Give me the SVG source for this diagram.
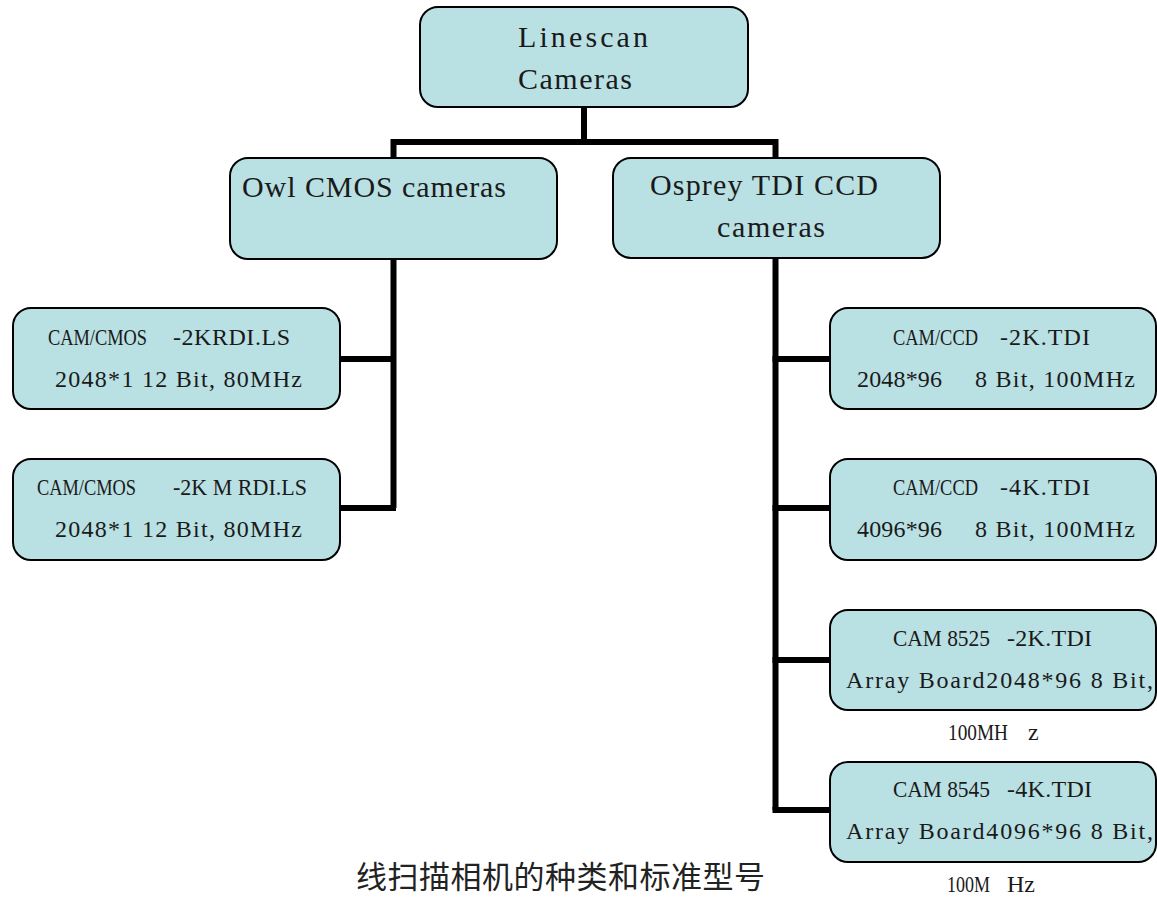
<svg xmlns="http://www.w3.org/2000/svg" width="1157" height="898" viewBox="0 0 1157 898">
<style>
.box{fill:#b9e0e3;stroke:#000;stroke-width:2}
.t{font-family:"Liberation Serif","Times New Roman",serif;fill:#1a1a1a}
.big{font-size:30px}
.sm{font-size:24px}
.conn{fill:none;stroke:#000;stroke-width:6}
.cap{font-family:"Noto Sans CJK SC","Noto Sans",sans-serif;font-size:31px;fill:#222}
</style>
<rect x="0" y="0" width="1157" height="898" fill="#fff"/>
<g id="connectors" class="conn">
<path d="M584,107 V142"/>
<path d="M393.5,159 V142 H775.5 V158"/>
<path d="M393.5,258 V508"/>
<path d="M340,359 H396"/>
<path d="M340,508 H396"/>
<path d="M775.5,258 V810"/>
<path d="M772.5,359 H830"/>
<path d="M772.5,508 H830"/>
<path d="M772.5,660 H830"/>
<path d="M772.5,810 H830"/>
</g>
<g id="root">
<rect class="box" x="420" y="7" width="328" height="100" rx="18"/>
<text class="t big" x="518" y="47" textLength="130" lengthAdjust="spacing">Linescan</text>
<text class="t big" x="518" y="89" textLength="114" lengthAdjust="spacing">Cameras</text>
</g>
<g id="owl">
<rect class="box" x="230" y="158" width="327" height="101" rx="18"/>
<text class="t big" x="242" y="197" textLength="264" lengthAdjust="spacing">Owl CMOS cameras</text>
</g>
<g id="osprey">
<rect class="box" x="613" y="158" width="327" height="100" rx="18"/>
<text class="t big" x="650" y="195" textLength="228" lengthAdjust="spacing">Osprey TDI CCD</text>
<text class="t big" x="717" y="237" textLength="108" lengthAdjust="spacing">cameras</text>
</g>
<g id="cmos1">
<rect class="box" x="13" y="308" width="327" height="101" rx="18"/>
<text class="t sm" x="48" y="345" textLength="99" lengthAdjust="spacingAndGlyphs">CAM/CMOS</text>
<text class="t sm" x="173" y="345" textLength="117" lengthAdjust="spacing">-2KRDI.LS</text>
<text class="t sm" x="55" y="387" textLength="247" lengthAdjust="spacing">2048*1 12 Bit, 80MHz</text>
</g>
<g id="cmos2">
<rect class="box" x="13" y="459" width="327" height="101" rx="18"/>
<text class="t sm" x="37" y="495" textLength="99" lengthAdjust="spacingAndGlyphs">CAM/CMOS</text>
<text class="t sm" x="173" y="495" textLength="134" lengthAdjust="spacingAndGlyphs">-2K M RDI.LS</text>
<text class="t sm" x="55" y="537" textLength="247" lengthAdjust="spacing">2048*1 12 Bit, 80MHz</text>
</g>
<g id="ccd2k">
<rect class="box" x="830" y="308" width="326" height="101" rx="18"/>
<text class="t sm" x="893" y="345" textLength="85" lengthAdjust="spacingAndGlyphs">CAM/CCD</text>
<text class="t sm" x="1000" y="345" textLength="90" lengthAdjust="spacing">-2K.TDI</text>
<text class="t sm" x="857" y="387" textLength="85" lengthAdjust="spacing">2048*96</text>
<text class="t sm" x="975" y="387" textLength="160" lengthAdjust="spacing">8 Bit, 100MHz</text>
</g>
<g id="ccd4k">
<rect class="box" x="830" y="459" width="326" height="101" rx="18"/>
<text class="t sm" x="893" y="495" textLength="85" lengthAdjust="spacingAndGlyphs">CAM/CCD</text>
<text class="t sm" x="1000" y="495" textLength="90" lengthAdjust="spacing">-4K.TDI</text>
<text class="t sm" x="857" y="537" textLength="85" lengthAdjust="spacing">4096*96</text>
<text class="t sm" x="975" y="537" textLength="160" lengthAdjust="spacing">8 Bit, 100MHz</text>
</g>
<g id="cam8525">
<rect class="box" x="830" y="610" width="326" height="100" rx="18"/>
<text class="t sm" x="893" y="646" textLength="97" lengthAdjust="spacingAndGlyphs">CAM 8525</text>
<text class="t sm" x="1007" y="646" textLength="85" lengthAdjust="spacing">-2K.TDI</text>
<text class="t sm" x="846" y="688" textLength="307" lengthAdjust="spacing">Array Board2048*96 8 Bit,</text>
<text class="t sm" x="948" y="740" textLength="60" lengthAdjust="spacingAndGlyphs">100MH</text>
<text class="t sm" x="1028" y="740">z</text>
</g>
<g id="cam8545">
<rect class="box" x="830" y="762" width="326" height="100" rx="18"/>
<text class="t sm" x="893" y="797" textLength="97" lengthAdjust="spacingAndGlyphs">CAM 8545</text>
<text class="t sm" x="1007" y="797" textLength="85" lengthAdjust="spacing">-4K.TDI</text>
<text class="t sm" x="846" y="839" textLength="307" lengthAdjust="spacing">Array Board4096*96 8 Bit,</text>
<text class="t sm" x="947" y="892" textLength="43" lengthAdjust="spacingAndGlyphs">100M</text>
<text class="t sm" x="1007" y="892" textLength="28" lengthAdjust="spacing">Hz</text>
</g>
<text class="cap" x="356" y="888" textLength="409" lengthAdjust="spacing">线扫描相机的种类和标准型号</text>
</svg>
